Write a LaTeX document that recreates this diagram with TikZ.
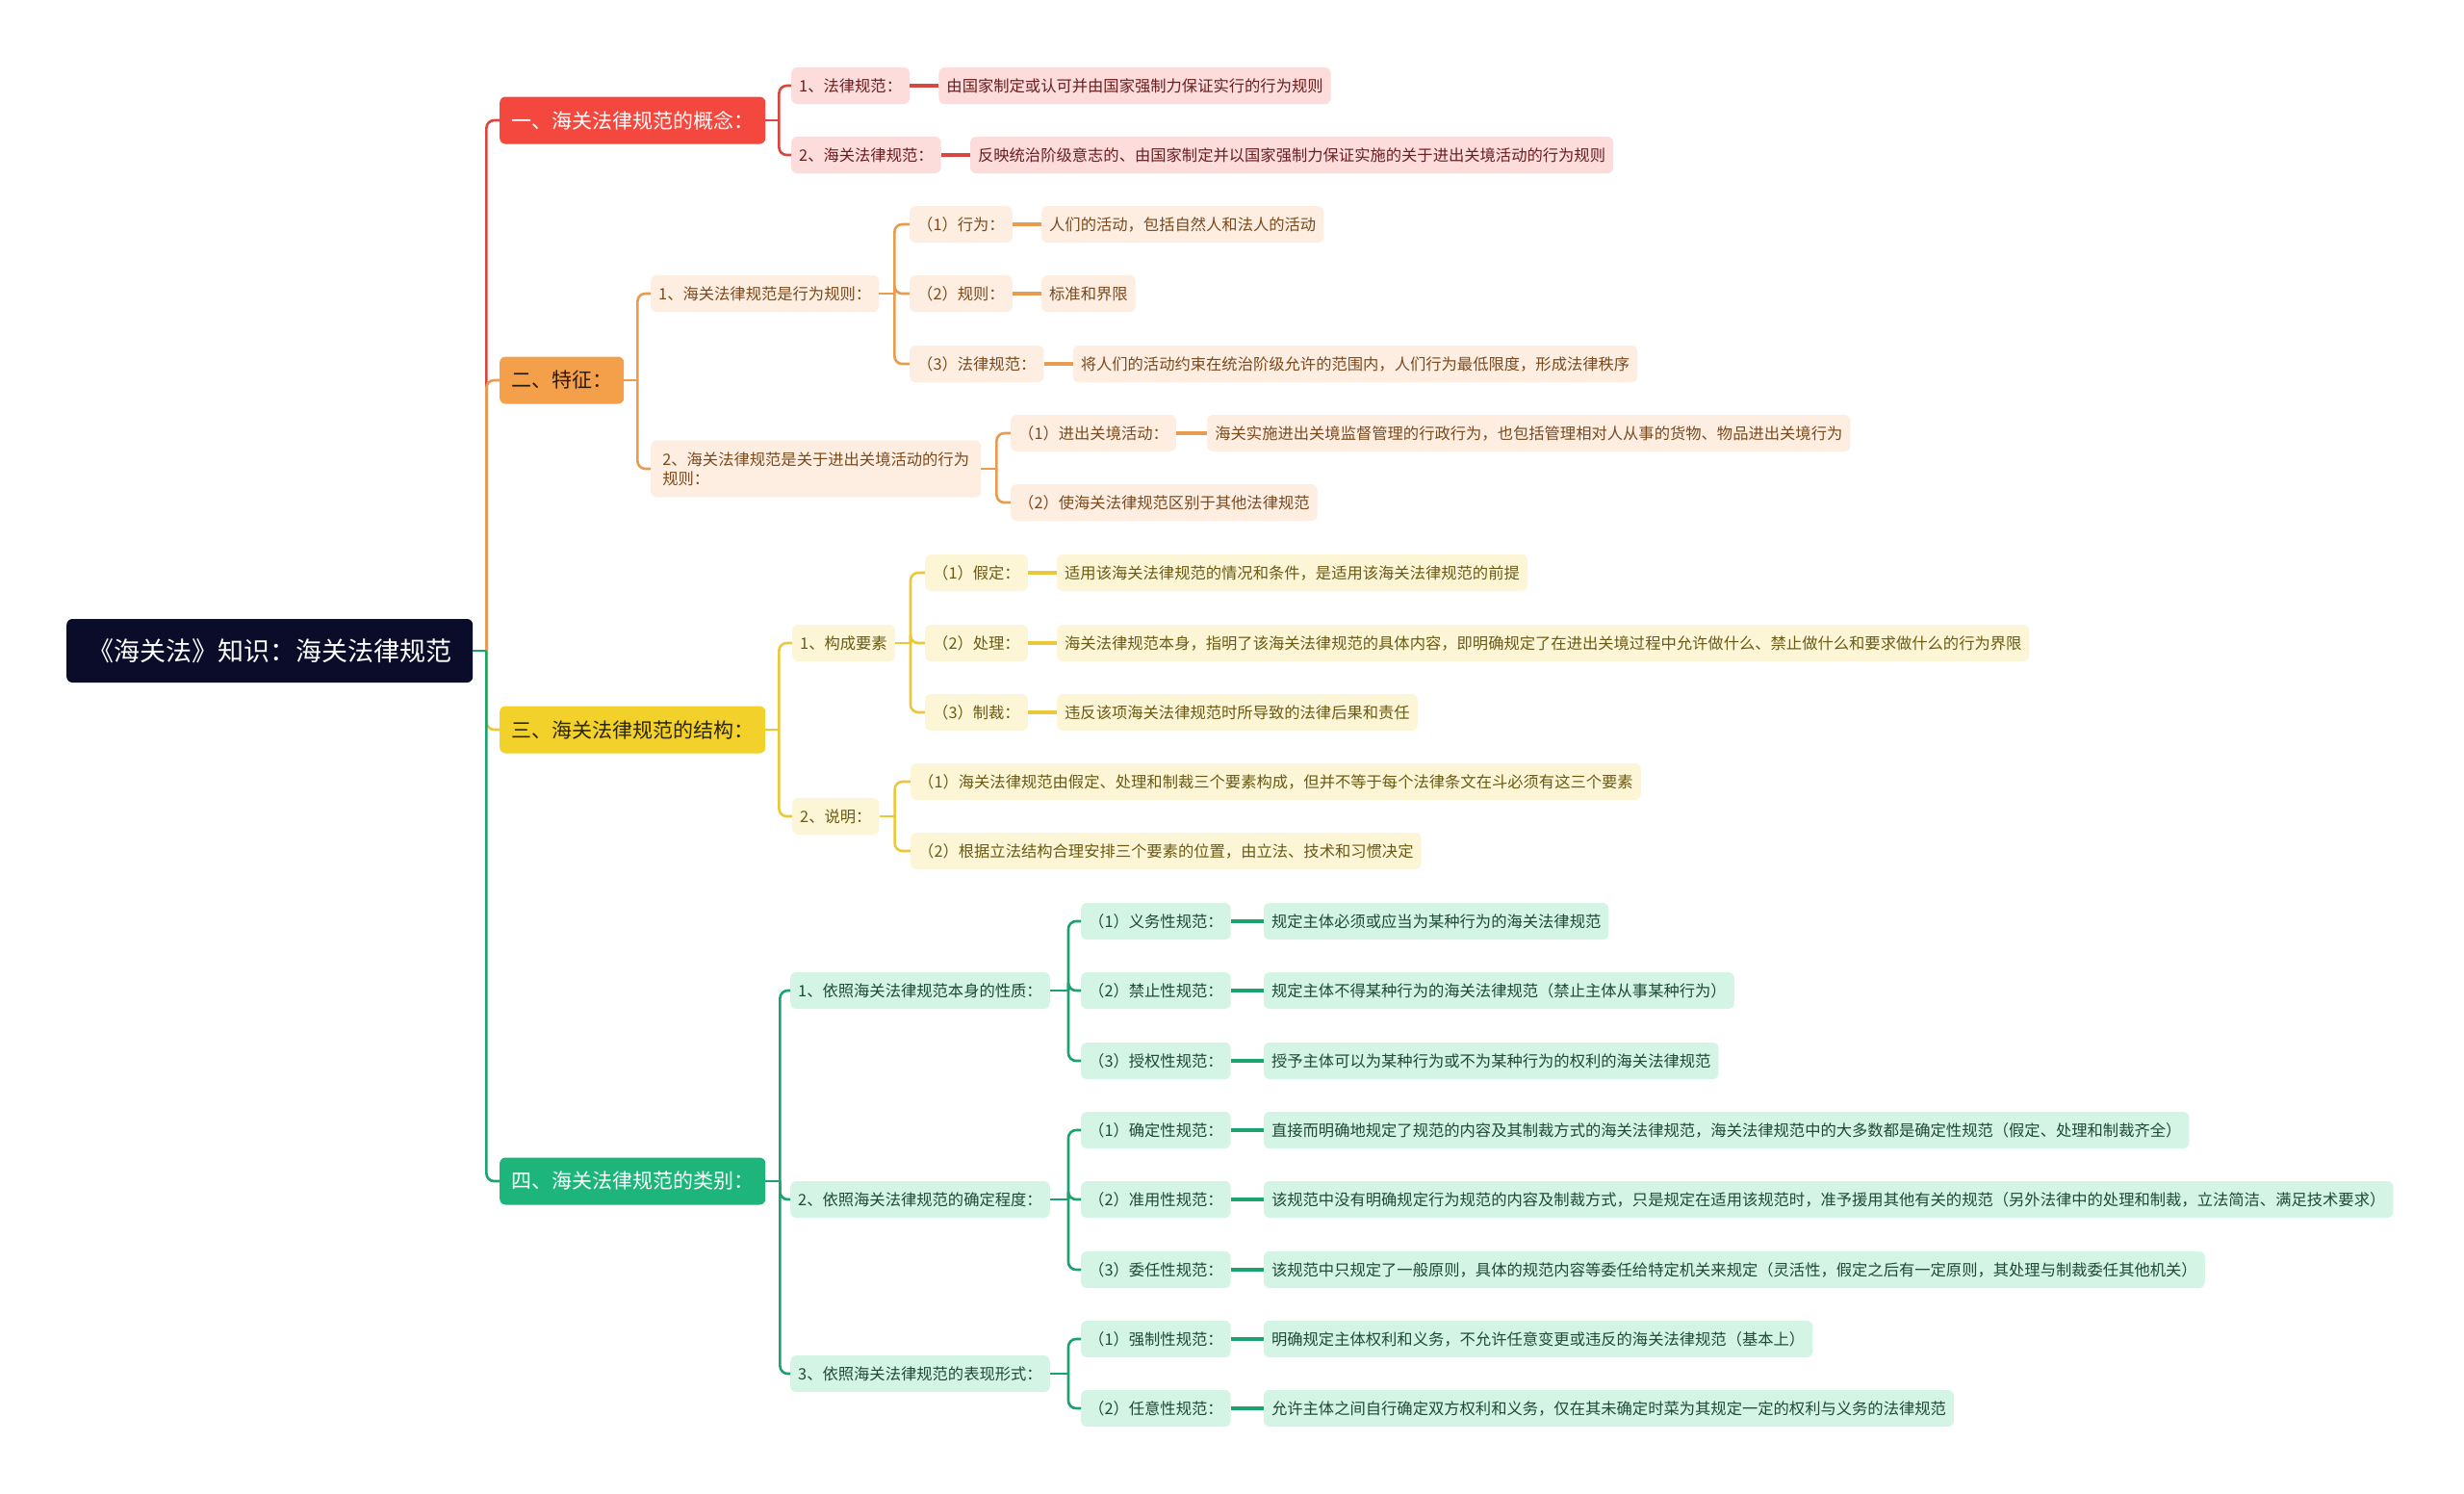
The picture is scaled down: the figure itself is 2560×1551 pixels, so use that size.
\documentclass[tikz,border=0pt]{standalone}
\usepackage{fontspec}
\setmainfont{Noto Sans CJK SC}
\usepackage{tikz}
\usetikzlibrary{positioning}
\usepackage{xcolor}

\definecolor{rootbg}{HTML}{0B0C2A}
\definecolor{c1fill}{HTML}{F4473E}
\definecolor{c1line}{HTML}{D9463E}
\definecolor{c1sub}{HTML}{FCDDDC}
\definecolor{c1text}{HTML}{6B1E1E}
\definecolor{c2fill}{HTML}{F4A04B}
\definecolor{c2line}{HTML}{E99B50}
\definecolor{c2sub}{HTML}{FDEEE1}
\definecolor{c2text}{HTML}{7A4A1E}
\definecolor{c2dark}{HTML}{2B1A0A}
\definecolor{c3fill}{HTML}{F2D22A}
\definecolor{c3line}{HTML}{EAC83A}
\definecolor{c3sub}{HTML}{FDF6D6}
\definecolor{c3text}{HTML}{6B5A14}
\definecolor{c3dark}{HTML}{2B2508}
\definecolor{c4fill}{HTML}{1DB57B}
\definecolor{c4line}{HTML}{1AA36E}
\definecolor{c4sub}{HTML}{D4F4E6}
\definecolor{c4text}{HTML}{1F4A38}

\begin{document}
\begin{tikzpicture}[
		x=1pt, y=-1pt,
		box/.style={
			rounded corners=6pt,
			anchor=west,
			inner ysep=0pt
		},
		rootbox/.style={
			box,
			fill=rootbg,
			text=white,
			font=\fontsize{27}{32}\selectfont,
			inner xsep=22pt,
			minimum height=66pt
		},
		topicbox/.style={
			box,
			font=\fontsize{21}{25}\selectfont,
			inner xsep=12pt,
			minimum height=49pt
		},
		subbox/.style={
			box,
			font=\fontsize{16.3}{20}\selectfont,
			inner xsep=8pt,
			minimum height=38pt
		},
		s1/.style={subbox, fill=c1sub, text=c1text},
		s2/.style={subbox, fill=c2sub, text=c2text},
		s3/.style={subbox, fill=c3sub, text=c3text},
		s4/.style={subbox, fill=c4sub, text=c4text},
		link/.style={line width=2.6pt, rounded corners=8pt},
		leaflink/.style={line width=3.4pt}
		]
		
		\path[use as bounding box, fill=white] (0,0) rectangle (2560,1551);
		
		% Root
		\node[rootbox] (root) at (69,676) {《海关法》知识：海关法律规范};
		
		% Topics
		\node[topicbox, fill=c1fill, text=white] (t1) at (519,125) {一、海关法律规范的概念：};
		\node[topicbox, fill=c2fill, text=c2dark] (t2) at (519,395) {二、特征：};
		\node[topicbox, fill=c3fill, text=c3dark] (t3) at (519,758) {三、海关法律规范的结构：};
		\node[topicbox, fill=c4fill, text=white] (t4) at (519,1227) {四、海关法律规范的类别：};
		
		% Trunk
		\coordinate (trunk) at ([xshift=14pt]root.east);
		\foreach \t/\c in {t1/c1line,t2/c2line,t3/c3line,t4/c4line}
		\draw[link, \c] (trunk) |- (\t.west);
		\draw[link, c4line] (root.east) -- (trunk);
		
		% 一
		\draw[link, c1line] (t1.east) -- ++(14,0) coordinate (t1s);
		\foreach \y/\n/\a/\b in {89/a1/1、法律规范：/由国家制定或认可并由国家强制力保证实行的行为规则,%
			161/a2/2、海关法律规范：/反映统治阶级意志的、由国家制定并以国家强制力保证实施的关于进出关境活动的行为规则}{
			\node[s1] (\n) at (822,\y) {\a};
			\node[s1, right=30pt of \n] (\n-l) {\b};
			\draw[link, c1line] (t1s) |- (\n.west);
			\draw[leaflink, c1line] (\n.east) -- (\n-l.west);
		}
		
		% 二
		\node[s2] (b1) at (676,305) {1、海关法律规范是行为规则：};
		\node[s2, align=left, minimum height=59pt, minimum width=343pt] (b2) at (676,487) {2、海关法律规范是关于进出关境活动的行为\\规则：};
		\draw[link, c2line] (t2.east) -- ++(14,0) coordinate (t2s);
		\draw[link, c2line] (t2s) |- (b1.west);
		\draw[link, c2line] (t2s) |- (b2.west);
		
		\draw[link, c2line] (b1.east) -- ++(16,0) coordinate (b1s);
		\foreach \y/\n/\a/\b in {233/b11/（1）行为：/人们的活动，包括自然人和法人的活动,%
			305/b12/（2）规则：/标准和界限,%
			378/b13/（3）法律规范：/将人们的活动约束在统治阶级允许的范围内，人们行为最低限度，形成法律秩序}{
			\node[s2] (\n) at (945,\y) {\a};
			\node[s2, right=30pt of \n] (\n-l) {\b};
			\draw[link, c2line] (b1s) |- (\n.west);
			\draw[leaflink, c2line] (\n.east) -- (\n-l.west);
		}
		
		\draw[link, c2line] (b2.east) -- ++(16,0) coordinate (b2s);
		\node[s2] (b21) at (1050,450) {（1）进出关境活动：};
		\node[s2, right=32pt of b21] (b21-l) {海关实施进出关境监督管理的行政行为，也包括管理相对人从事的货物、物品进出关境行为};
		\node[s2] (b22) at (1050,522) {（2）使海关法律规范区别于其他法律规范};
		\draw[link, c2line] (b2s) |- (b21.west);
		\draw[link, c2line] (b2s) |- (b22.west);
		\draw[leaflink, c2line] (b21.east) -- (b21-l.west);
		
		% 三
		\node[s3] (c1) at (823,668) {1、构成要素};
		\node[s3] (c2) at (823,848) {2、说明：};
		\draw[link, c3line] (t3.east) -- ++(14,0) coordinate (t3s);
		\draw[link, c3line] (t3s) |- (c1.west);
		\draw[link, c3line] (t3s) |- (c2.west);
		
		\draw[link, c3line] (c1.east) -- ++(16,0) coordinate (c1s);
		\foreach \y/\n/\a/\b in {595/c11/（1）假定：/适用该海关法律规范的情况和条件，是适用该海关法律规范的前提,%
			668/c12/（2）处理：/海关法律规范本身，指明了该海关法律规范的具体内容，即明确规定了在进出关境过程中允许做什么、禁止做什么和要求做什么的行为界限,%
			740/c13/（3）制裁：/违反该项海关法律规范时所导致的法律后果和责任}{
			\node[s3] (\n) at (961,\y) {\a};
			\node[s3, right=30pt of \n] (\n-l) {\b};
			\draw[link, c3line] (c1s) |- (\n.west);
			\draw[leaflink, c3line] (\n.east) -- (\n-l.west);
		}
		
		\draw[link, c3line] (c2.east) -- ++(16,0) coordinate (c2s);
		\node[s3] (c21) at (946,812) {（1）海关法律规范由假定、处理和制裁三个要素构成，但并不等于每个法律条文在斗必须有这三个要素};
		\node[s3] (c22) at (946,884) {（2）根据立法结构合理安排三个要素的位置，由立法、技术和习惯决定};
		\draw[link, c3line] (c2s) |- (c21.west);
		\draw[link, c3line] (c2s) |- (c22.west);
		
		% 四
		\node[s4] (d1) at (821,1029) {1、依照海关法律规范本身的性质：};
		\node[s4] (d2) at (821,1246) {2、依照海关法律规范的确定程度：};
		\node[s4] (d3) at (821,1427) {3、依照海关法律规范的表现形式：};
		\draw[link, c4line] (t4.east) -- ++(15,0) coordinate (t4s);
		\foreach \n in {d1,d2,d3}
		\draw[link, c4line] (t4s) |- (\n.west);
		
		\foreach \p/\y/\n/\a/\b in {d1/957/d11/（1）义务性规范：/规定主体必须或应当为某种行为的海关法律规范,%
			d1/1029/d12/（2）禁止性规范：/规定主体不得某种行为的海关法律规范（禁止主体从事某种行为）,%
			d1/1102/d13/（3）授权性规范：/授予主体可以为某种行为或不为某种行为的权利的海关法律规范,%
			d2/1174/d21/（1）确定性规范：/直接而明确地规定了规范的内容及其制裁方式的海关法律规范，海关法律规范中的大多数都是确定性规范（假定、处理和制裁齐全）,%
			d2/1246/d22/（2）准用性规范：/该规范中没有明确规定行为规范的内容及制裁方式，只是规定在适用该规范时，准予援用其他有关的规范（另外法律中的处理和制裁，立法简洁、满足技术要求）,%
			d2/1319/d23/（3）委任性规范：/该规范中只规定了一般原则，具体的规范内容等委任给特定机关来规定（灵活性，假定之后有一定原则，其处理与制裁委任其他机关）,%
			d3/1391/d31/（1）强制性规范：/明确规定主体权利和义务，不允许任意变更或违反的海关法律规范（基本上）,%
			d3/1463/d32/（2）任意性规范：/允许主体之间自行确定双方权利和义务，仅在其未确定时菜为其规定一定的权利与义务的法律规范}{
			\node[s4] (\n) at (1123,\y) {\a};
			\node[s4, right=34pt of \n] (\n-l) {\b};
			\draw[link, c4line] (1110,0 |- \p.east) -- (\p.east);
			\draw[link, c4line] (1110,0 |- \p.east) |- (\n.west);
			\draw[leaflink, c4line] (\n.east) -- (\n-l.west);
		}
		
	\end{tikzpicture}
\end{document}
